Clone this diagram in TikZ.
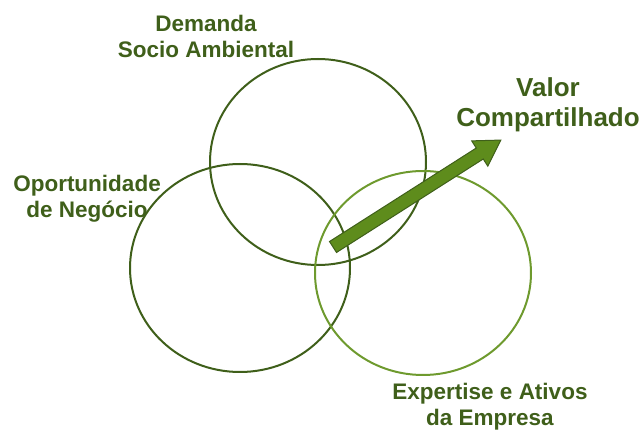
\documentclass[tikz,border=0pt]{standalone}
\usepackage{fontspec}
\setmainfont{Liberation Sans}
\usetikzlibrary{calc,positioning}

\definecolor{leafdark}{HTML}{3F5F1A}
\definecolor{leaflight}{HTML}{6E9A2E}
\definecolor{leafmid}{HTML}{5E8C1C}

\begin{document}
\begin{tikzpicture}[x=1pt,y=-1pt,
    ring/.style={draw=leafdark,line width=2pt},
    ringlight/.style={draw=leaflight,line width=2pt},
    label/.style={text=leafdark,font=\bfseries\fontsize{22.5}{26}\selectfont,align=center},
    biglabel/.style={text=leafdark,font=\bfseries\fontsize{26}{30}\selectfont,align=center},
    arrowbody/.style={fill=leafmid,draw=leafdark,line width=1pt,line join=miter}]
  \useasboundingbox (0,0) rectangle (643,430);

  % the three circles
  \draw[ring] (318,162) ellipse (108 and 103);
  \draw[ring] (240,268) ellipse (110 and 104);
  \draw[ringlight] (423,273) ellipse (108 and 102);

  % labels
  \node[label] (demanda) at (206,36) {Demanda\\Socio Ambiental};
  \node[label] (oportunidade) at (87,199) {Oportunidade\\de Negócio};
  \node[label] (expertise) at (490,407) {Expertise e Ativos\\da Empresa};
  \node[biglabel] (valor) at (548,105) {Valor\\Compartilhado};

  % the arrow
  \coordinate (tail) at (333,247);
  \coordinate (tip) at (500,140);
  \draw[arrowbody,shift={(tail)},rotate=32.5]
    (0,-6.5) -- (174,-6.5) -- (174,-15) -- (199,0) -- (174,15) -- (174,6.5) -- (0,6.5) -- cycle;
\end{tikzpicture}
\end{document}
